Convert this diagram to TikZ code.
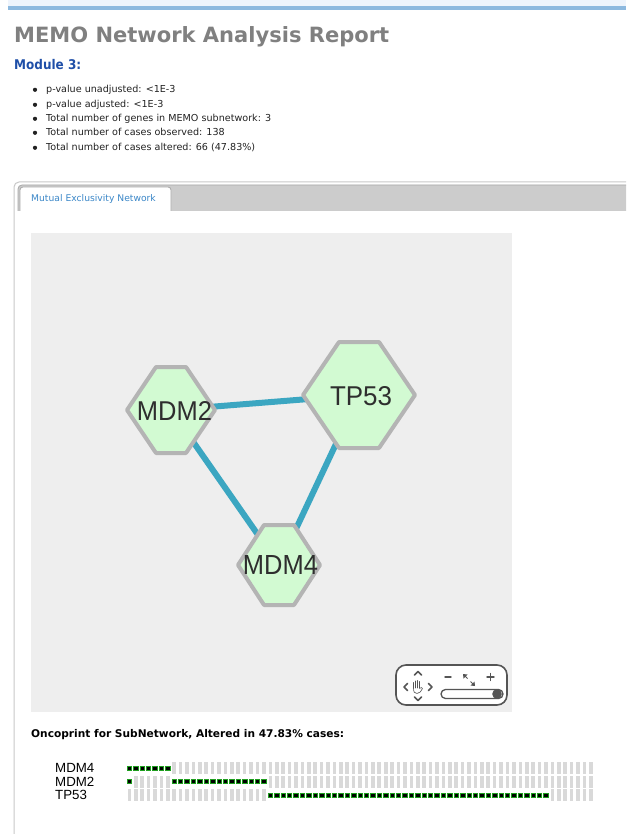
\documentclass[tikz,border=0pt]{standalone}
\usepackage{fontspec}
\setmainfont{DejaVu Sans}
\newfontfamily\libsans{Liberation Sans}
\newfontfamily\dvcond{DejaVu Sans Condensed}
\usetikzlibrary{calc}
\definecolor{topband}{HTML}{EEF4FC}
\definecolor{topline}{HTML}{8DB9DF}
\definecolor{titlegray}{HTML}{808080}
\definecolor{modblue}{HTML}{1F4FA8}
\definecolor{txt}{HTML}{222222}
\definecolor{panelline}{HTML}{C8C8C8}
\definecolor{tabbar}{HTML}{CCCCCC}
\definecolor{tabedge}{HTML}{A8A8A8}
\definecolor{tabtext}{HTML}{3B87C8}
\definecolor{canvas}{HTML}{EEEEEE}
\definecolor{edgeblue}{HTML}{3BA6C1}
\definecolor{hexfill}{HTML}{D2FAD2}
\definecolor{hexline}{HTML}{B4B4B4}
\definecolor{hextext}{HTML}{2E2E2E}
\definecolor{ctrl}{HTML}{555555}
\definecolor{barg}{HTML}{D9D9D9}
\definecolor{altg}{HTML}{1E9E1E}
\newcommand{\hexgon}[5]{%
  \draw[hexshape, shift={(#1,#2)}] (-#3,0) -- (-#4,-#5) -- (#4,-#5) -- (#3,0) -- (#4,#5) -- (-#4,#5) -- cycle;}
\tikzset{
  hexshape/.style={draw=hexline, line width=4pt, fill=hexfill, line join=round},
  hexlabel/.style={inner sep=0pt, text=hextext, font=\libsans},
  netedge/.style={draw=edgeblue, line width=6pt},
  bullettext/.style={anchor=base west, inner sep=0pt, text=txt, font=\fontsize{9.6}{11}\selectfont},
  genelabel/.style={anchor=west, inner sep=0pt, text=black, font=\libsans\fontsize{13.3}{15}\selectfont},
  graybar/.style={fill=barg},
  altcell/.style={fill=black, draw=altg, line width=0.6pt},
  ctrlstroke/.style={draw=ctrl, line width=1.6pt, line cap=round, line join=round}
}
\begin{document}
\begin{tikzpicture}[x=1pt,y=-1pt]
\useasboundingbox (0,0) rectangle (626,834);
\fill[white] (0,0) rectangle (626,834);
% top band
\fill[topband] (8,0) rectangle (626,6);
\fill[topline] (8,6) rectangle (626,10);
% title
\node[anchor=base west, inner sep=0pt, text=titlegray, font=\bfseries] (title) at (14,43)
  {\resizebox{375pt}{!}{MEMO Network Analysis Report}};
\node[anchor=base west, inner sep=0pt, text=modblue, font=\dvcond\bfseries] (module) at (14,70)
  {\resizebox{67pt}{!}{Module 3:}};
% bullets
\foreach \yy/\tx [count=\k] in {93/{p-value unadjusted: <1E-3},
  108/{p-value adjusted: <1E-3},
  122/{Total number of genes in MEMO subnetwork: 3},
  136/{Total number of cases observed: 138},
  151/{Total number of cases altered: 66 (47.83\%)}}{
  \fill[txt] (35,\yy-3.2) circle (2.1pt);
  \node[bullettext] (b\k) at (46,\yy) {\tx};
}
% panel
\draw[panelline, line width=1pt] (14,834) -- (14,187) arc[start angle=180, end angle=270, radius=5] -- (626,182);
\fill[tabbar] (18,211) -- (18,189) arc[start angle=180, end angle=270, radius=4] -- (626,185) -- (626,211) -- cycle;
\draw[tabedge, line width=0.8pt] (18,211) -- (18,189) arc[start angle=180, end angle=270, radius=4] -- (626,185);
\fill[white] (20,212) -- (20,190) arc[start angle=180, end angle=270, radius=3] -- (168,187) arc[start angle=270, end angle=360, radius=3] -- (171,212) -- cycle;
\draw[tabedge, line width=0.8pt] (20,211) -- (20,190) arc[start angle=180, end angle=270, radius=3] -- (168,187) arc[start angle=270, end angle=360, radius=3] -- (171,211);
\node[anchor=base west, inner sep=0pt, text=tabtext, font=\fontsize{9.2}{10}\selectfont] (tab) at (31,201.5) {Mutual Exclusivity Network};
% canvas
\fill[canvas] (31,233) rectangle (512,712);
% network
\coordinate (mdm2c) at (171,410);
\coordinate (tp53c) at (359,395);
\coordinate (mdm4c) at (279,565);
\draw[netedge] (mdm2c) -- (tp53c);
\draw[netedge] (mdm2c) -- (mdm4c);
\draw[netedge] (tp53c) -- (mdm4c);
\hexgon{171}{410}{44}{15}{43}
\hexgon{359}{395}{56}{20}{53}
\hexgon{279}{565}{41}{15}{40}
\node[hexlabel] (mdm2) at (174.5,411) {\resizebox{75pt}{19pt}{MDM2}};
\node[hexlabel] (tp53) at (361,396) {\resizebox{62pt}{19pt}{TP53}};
\node[hexlabel] (mdm4) at (280.5,565) {\resizebox{75pt}{19pt}{MDM4}};
% zoom control
\draw[ctrl, line width=1.6pt, fill=white, rounded corners=10pt] (396,665) rectangle (507,705);
\draw[ctrlstroke] (414.5,675) -- (418,671.5) -- (421.5,675);
\draw[ctrlstroke] (414.5,697) -- (418,700.5) -- (421.5,697);
\draw[ctrlstroke] (407.5,683.5) -- (404,687) -- (407.5,690.5);
\draw[ctrlstroke] (428.5,683.5) -- (432,687) -- (428.5,690.5);
% hand
\draw[ctrl, line width=0.6pt, line cap=round, line join=round]
  (413.5,688) -- (413.5,682.5) (415.5,688) -- (415.5,681) (417.5,688) -- (417.5,680.5) (419.5,688) -- (419.5,681.5)
  (413.5,688) .. controls (413.5,692) and (414.5,693.5) .. (417,693.5) .. controls (420,693.5) and (421,691) .. (422.5,688.5) -- (421.5,687.5) -- (419.5,688.5);
\draw[ctrlstroke, line width=1.4pt] (445,677) -- (451,677);
\draw[ctrlstroke, line width=1.4pt] (487,677) -- (494,677) (490.5,673.5) -- (490.5,680.5);
% expand icon
\draw[ctrl, line width=1pt] (464,675) -- (467.5,678.5) (470.5,681.5) -- (474,685);
\fill[ctrl] (463,674) -- (467.5,674.5) -- (463.5,678.5) -- cycle;
\fill[ctrl] (475,686) -- (470.5,685.5) -- (474.5,681.5) -- cycle;
% slider
\draw[ctrl, line width=1.3pt, fill=white, rounded corners=4.5pt] (441,689.5) rectangle (503,698.5);
\fill[ctrl] (497,694) circle (4.8pt);
% oncoprint
\node[anchor=base west, inner sep=0pt, text=black, font=\bfseries] (oncotitle) at (31,737)
  {\resizebox{313pt}{!}{Oncoprint for SubNetwork, Altered in 47.83\% cases:}};
\node[genelabel] (lmdm4) at (55,768) {MDM4};
\node[genelabel] (lmdm2) at (55,781.5) {MDM2};
\node[genelabel] (ltp53) at (55,795) {TP53};
\foreach \i in {0,...,72}{
  \pgfmathsetmacro{\cx}{129.3+6.41*\i}
  % MDM4 row
  \ifnum\i<7
    \draw[altcell] (\cx-2.2,768-2.2) rectangle (\cx+2.2,768+2.2);
  \else
    \fill[graybar] (\cx-1.8,762) rectangle (\cx+1.8,774);
  \fi
  % MDM2 row
  \pgfmathtruncatemacro{\mtwo}{(\i==0)||((\i>6)&&(\i<22))}
  \ifnum\mtwo=1
    \draw[altcell] (\cx-2.2,781.5-2.2) rectangle (\cx+2.2,781.5+2.2);
  \else
    \fill[graybar] (\cx-1.8,775.5) rectangle (\cx+1.8,787.5);
  \fi
  % TP53 row
  \pgfmathtruncatemacro{\tp}{(\i>21)&&(\i<66)}
  \ifnum\tp=1
    \draw[altcell] (\cx-2.2,795-2.2) rectangle (\cx+2.2,795+2.2);
  \else
    \fill[graybar] (\cx-1.8,789) rectangle (\cx+1.8,801);
  \fi
}
\end{tikzpicture}
\end{document}
